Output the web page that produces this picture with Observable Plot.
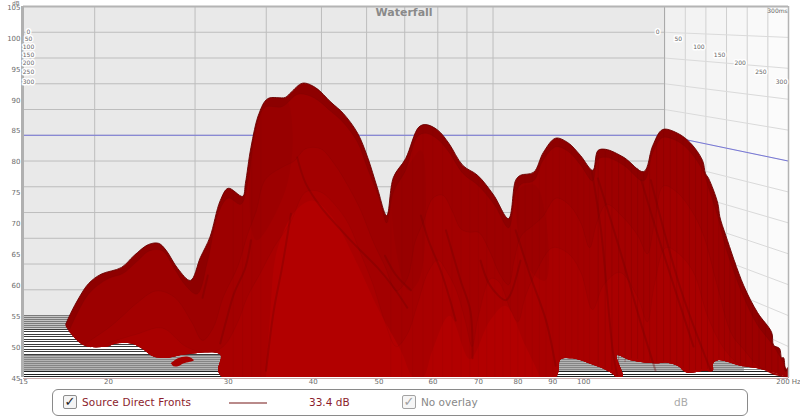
<!DOCTYPE html>
<html><head><meta charset="utf-8">
<script src="https://cdn.jsdelivr.net/npm/d3@7"></script>
<script src="https://cdn.jsdelivr.net/npm/@observablehq/plot@0.6"></script>
<style>
html,body{margin:0;padding:0;background:#fff;width:800px;height:418px;overflow:hidden;font-family:"DejaVu Sans",sans-serif}
svg{display:block}
#legend{position:relative;margin-left:52px;width:696px;height:27px;border:1px solid #8a8a8a;border-radius:6px;box-sizing:border-box}
#legend span,#legend i{position:absolute;white-space:nowrap;font-style:normal}
.lbl{top:6px;font-size:10.5px;line-height:13px}
.box{top:5px;width:14px;height:14px;border:1px solid #8d8d8d;border-radius:2px;box-sizing:border-box;background:#f4f4f4;font-size:13px;line-height:11px;text-align:center;font-weight:bold}
</style></head><body><div id="chart"></div>
<div id="legend">
<i class="box" style="left:10px;color:#222">✓</i><span class="lbl" style="left:29px;color:#8c1c2c;letter-spacing:.15px">Source Direct Fronts</span>
<i style="left:176px;top:12px;width:38px;height:2px;background:#b98a8a"></i>
<span class="lbl" style="left:256px;color:#8c1c2c">33.4 dB</span>
<i class="box" style="left:349px;color:#888;opacity:.8">✓</i><span class="lbl" style="left:368px;color:#888">No overlay</span>
<span class="lbl" style="left:621px;color:#aaa">dB</span>
</div>
<script>
// Axis ticks
const freqTicks=[15,20,30,40,50,60,70,80,90,100,200];
const gridFreqs=[20,30,40,50,60,70,80,90,100];
const dbTicks=[45,50,55,60,65,70,75,80,85,90,95,100,105];
const gridDbs=[50,55,60,65,70,75,80,85,90,95,100];
const timeTicks=[0,50,100,150,200,250,300];
const timeLabelDb=[100.8,99.7,98.4,97.1,95.8,94.4,92.7];
const sideShades=["#f1f1f1","#f3f3f3","#f5f5f5","#f7f7f7","#f9f9f9","#fbfbfb"];
const referenceDb=80;

// Waterfall outline: upper edge over all slices [Hz, dB]
const outlineTop=[[17.3,53.6],[17.6,55.4],[18.1,57.9],[18.7,60.2],[19.5,61.7],[20.9,62.8],[21.8,64.7],[22.9,66.5],[23.7,66.7],[24.3,65.6],[25.3,62.6],[26.4,60.7],[27.3,64.4],[28.2,67.7],[29.2,73.6],[30,75.6],[31.5,74.3],[31.8,76.4],[32.4,82.2],[33.3,87.7],[34.3,90.1],[36.4,90.3],[37.1,91.1],[38.6,92.6],[40.3,91.9],[42.5,89.5],[44.3,87.7],[46.5,84.5],[48.1,80.6],[49.7,75.7],[51.3,71.2],[52.5,77.4],[54.7,80.4],[57.2,85.5],[58.6,85.9],[61,85],[63.3,82.9],[66.4,79.3],[69.8,77.7],[73.7,74.5],[77.5,70.7],[79.4,76.9],[80.7,77.7],[84.4,78.2],[87.2,81.4],[90.9,83.7],[94.7,83],[98.9,80.9],[103.1,78.5],[104.9,81.7],[107.7,81.9],[114.5,80.6],[122.5,78.3],[126.3,82.5],[130.6,85.1],[137.4,84.5],[143.6,82.9],[149.5,80.1],[151,78],[152.6,77.2],[157.4,73.2],[158.5,71],[161.7,68],[171.8,59.9],[180.1,55.5],[188.9,52.3],[190.2,50.2],[194,49.7],[195.4,48.2],[196.7,48.2],[198,46],[199.5,46.6],[200,45.1]];
// Lower edge where the floor shows through, right to left
const outlineLow=[[200,45],[196.7,45.3],[180.1,46.5],[170,46.9],[157.5,47.8],[155,47.3],[154.7,46.1],[150,46.1],[141.7,45.8],[137.4,46.9],[132.6,47.4],[128.5,47.3],[117.3,47.8],[111.8,48.6],[114.1,45.2],[112.1,45],[109.5,45.8],[106,46.6],[101.3,47.4],[96.3,48.1],[92.4,47.9],[91.7,45.8],[90.9,45],[88,45],[60,45],[33,45],[29.5,45],[29,46.1],[29.2,48.7],[25.8,48.7],[24.5,48.2],[23.3,48.4],[22.4,49.7],[21.6,50.5],[20.5,50.5],[19.9,50],[18.6,50],[18.1,50.7],[17.6,52.1],[17.3,53.3]];
const islandPatch=[[24.7,47.3],[25.3,48.1],[26.1,48.4],[26.7,47.8],[25.8,47.3],[25.3,46.8],[24.9,46.8]];

// Slices, back to front
const sliceEarly=[[17.5,52.5],[18.7,58.5],[20,61],[21,61.8],[22,63.7],[23,65.5],[24,65.5],[25,62.6],[26,59.8],[27,58.5],[28,64],[29,71.5],[30,74],[31.3,73],[32,76],[33,85.5],[34,88.7],[36,88.8],[38,90.8],[40,90.3],[42.5,88],[44.3,86.2],[46.5,83],[48,79],[50,74],[51.3,70],[52.5,75],[54.7,78.5],[57,84],[58.6,84.5],[61,83.5],[63.3,81.5],[66.4,78],[70,76],[74,72.8],[77.5,69.2],[79.5,75],[81,76.3],[84.4,76.8],[87,80],[91,82.3],[95,81.5],[99,79.3],[103,76.8],[105,80.3],[108,80.6],[114.5,79.3],[122.5,76.8],[126.3,81.3],[130.6,83.8],[137.4,83.2],[143.6,81.4],[149.5,78.5],[152.6,75.6],[157.4,71],[161.7,66],[171.8,58],[180,53.5],[188,50.8],[194,48.5],[200,45.5]];
const sliceMiddle=[[18.5,50.5],[20,53],[21,55],[22,57],[23.5,59],[25,58],[26.5,54],[27.5,51],[28.5,53],[29.5,58],[31,63],[32,68],[33,72],[34,77],[36,79],[37.5,80],[39,82],[41,82],[43,79.5],[45,76],[47,72],[49,67],[51,63],[53,59],[55,61],[56.5,67],[58,70],[60,74],[62,74.5],[64,72],[66,69],[68,68.5],[70,68.5],[73,65],[75,62],[77.5,60],[79,64],[81,68],[84,69.5],[87,71],[91,74],[95,73],[99,70],[102,66],[104.5,70],[108,73],[114,71],[120,68],[124,65],[127,70],[131,76],[137,75],[144,72],[150,68],[157,60],[165,52],[172,49.5],[180,47],[190,45.5],[200,45]];
const sliceLate=[[20,50.6],[22,52],[24,53],[26,50],[28,49],[29.5,50],[31,54],[32,58],[33.5,62],[35,66],[37,70],[39,75],[41,75],[43,73],[45,70],[47,65],[49,60],[51,54],[53,50],[55,52],[57,57],[59,62],[61,64],[63,62],[65,59],[67,54],[68.5,50],[70,55],[73,61],[75,60.5],[78,56],[80,54],[82,58],[85,62],[90,66],[95,65],[99,62],[103,56],[107,60],[113,62],[120,58],[124,54],[127,60],[132,66],[138,65],[145,62],[152,55],[160,50],[170,47],[180,46.6],[200,45]];
const sliceFront=[[34.1,45],[34.6,55.8],[35.4,65.6],[37.7,72],[40,73.6],[42.5,71.2],[46.2,63.9],[50,55.8],[53.8,49.4],[56.2,45],[58,45],[59.9,49.4],[63.5,55],[68,48],[72.8,54.2],[76.7,56.6],[82,50.2],[86.4,45]];
// Darker shaded faces on the left flanks of the modes
const shadeMain=[[33.1,86.6],[34.4,89.8],[36.4,90.1],[37.3,85],[36.4,75.3],[33,67.2],[32.2,76.9]];
const shadeSecond=[[52.5,75.3],[54.7,78.5],[57.6,81.7],[58.6,73.6],[57.2,60.7],[55.2,59.1],[52.7,67.2]];
const shadeThird=[[80,75.3],[84.8,76.1],[87.8,71.2],[87.8,60.7],[83.4,62.3],[80,68.8]];

// Dark creases on the surface
const creases=[
 [[37.9,80.6],[39,76.4],[41.1,72.5],[44,68.8],[46.5,66],[49.7,62.8],[52.5,59.6],[55,56.3]],
 [[32.4,67.2],[31.8,62.8],[30.6,58.6],[29.8,54.2],[29.2,50.5]],
 [[37.1,71.5],[36,62.8],[35,55.8],[34.1,46.1]],
 [[51,64.7],[53,61.5],[55.7,59.1]],
 [[57.6,71.2],[59.1,67.2],[61.6,62.3],[63.6,57.5],[64.8,54.2]],
 [[62.7,68.8],[65.9,60.7],[68.1,55.8],[68.6,48.1]],
 [[70.5,63.9],[72.8,59.9],[76.7,57.5],[77.9,58.3],[80.7,63.9]],
 [[79.4,68.8],[83.4,61.5],[88,54.2],[90.9,46.9]],
 [[104.9,77.2],[113,65.6],[121,54.2],[127.5,46.1]],
 [[125.5,76.9],[139,59.1],[153.7,46.1]],
 [[102.7,78.5],[106,68.8],[110.3,49.4],[112,45.3]],
 [[121.5,76.9],[130.5,65.6],[145,50]],
 [[27.5,57.9],[28,61.5]]
];
// Near-vertical slice edges
const edgeFreqsRight=[105,107.5,110,112.5,115,117.5,120,122.5,125,128,131,134,137,140,143,146,149,152,155,158,161,164,167,170,173,177,181,185,189,193];
const edgeFreqsMid=[30.5,31.5,32.5,33.5,52,54,56,58,60,62,64,66,68,70,72,74,76,78,80,82,84,86,88,90,92,94,96,98,100,102];

const LOG15=Math.log(15);
const projF=(f,t)=>Math.exp(LOG15+(Math.log(f)-LOG15)*(0.838+0.162*t/300));
const projDb=(db,t)=>105-(105-db)*(0.833+0.167*t/300);
const pts=a=>a.map(([f,db])=>({f,db}));
const lookup=(arr,f)=>{const s=[...arr].sort((a,b)=>a[0]-b[0]);const i=d3.bisector(d=>d[0]).right(s,f);
  if(i<=0)return s[0][1]; if(i>=s.length)return s[s.length-1][1];
  const [a,b]=[s[i-1],s[i]];return a[1]+(b[1]-a[1])*(f-a[0])/(b[0]-a[0]);};
const lowMono=outlineLow.filter(p=>![111.8,114.1,112.1].includes(p[0])&&p[0]>=90);
const edge=f=>({f,top:lookup(outlineTop,f)-0.2,low:f>=92?lookup(lowMono,f)+0.2:45});

const tOfDb=db=>Math.max(0,Math.min(300,(55-db)/10*300));
const pxDb=1/6.18;
const floorRows=[
 ...d3.range(55,52.8,-2*pxDb).map(db=>({db,stroke:"#7b7b7b"})),
 ...d3.range(52.8,48.56,-2.5*pxDb).map(db=>({db,stroke:"#3c3c3c"})),
 ...d3.range(48.56,45.97,-2*pxDb).map(db=>({db,stroke:"#858585"})),
 ...d3.range(45.97,45.05,-2.5*pxDb).map(db=>({db,stroke:"#222"}))
].map(r=>({...r,x2:projF(200,tOfDb(r.db))}));

const backF=projF(200,0), backFloor=projDb(45,0);
const floorGrey=[{y1:52.8,y2:55,x2:backF,fill:"#c4c4c4"},{y1:45.97,y2:48.56,x2:projF(200,tOfDb(48.56)),fill:"#b4b4b4"}];
const floorShape=[{f:15,db:55},{f:backF,db:55},{f:200,db:45},{f:15,db:45}];
const sideCols=timeTicks.slice(0,-1).map((t,i)=>({x1:projF(200,t),x2:projF(200,timeTicks[i+1]),fill:sideShades[i]}));
const closed=slice=>pts([...slice,...outlineLow.filter(p=>p[0]<=slice[slice.length-1][0]&&p[0]>=slice[0][0])]);
const poly=(data,fill)=>Plot.line(data,{x:"f",y:"db",fill,stroke:"none",curve:"catmull-rom",clip:true});
const contour=(slice,op)=>Plot.line(pts(slice),{x:"f",y:"db",stroke:"#6e0000",strokeWidth:0.7,strokeOpacity:op,curve:"catmull-rom"});
const shade=slice=>Plot.line(pts(slice),{x:"f",y:"db",fill:"#880000",fillOpacity:.22,stroke:"none",curve:"catmull-rom-closed"});
const sideLines=gridDbs.flatMap(db=>[{f:backF,db:projDb(db,0),k:db},{f:200,db:db,k:db}]);

const tickStyle={fontSize:"7px",fontFamily:"DejaVu Sans",fill:"#6b6b6b"};
const plot=Plot.plot({
  width:800,height:389,marginLeft:23,marginRight:12,marginTop:6,marginBottom:12,
  style:{background:"#fff",fontFamily:"DejaVu Sans"},
  x:{type:"log",domain:[15,200],axis:null},
  y:{domain:[45,105],axis:null},
  marks:[
    // walls
    Plot.rect([{x1:15,x2:backF,y1:backFloor,y2:105}],{x1:"x1",x2:"x2",y1:"y1",y2:"y2",fill:"#e9e9e9"}),
    Plot.rect(sideCols,{x1:"x1",x2:"x2",y1:45,y2:105,fill:"fill"}),
    Plot.ruleY(gridDbs,{y:d=>projDb(d,0),x1:15,x2:backF,stroke:"#bdbdbd",strokeWidth:1}),
    Plot.ruleX(gridFreqs,{x:d=>projF(d,0),y1:backFloor,y2:105,stroke:"#bdbdbd",strokeWidth:1}),
    Plot.ruleX(timeTicks,{x:t=>projF(200,t),y1:45,y2:105,stroke:"#cfcfcf",strokeWidth:1}),
    Plot.line(sideLines,{x:"f",y:"db",z:"k",stroke:"#dadada",strokeWidth:1}),
    Plot.ruleX([0],{x:backF,y1:backFloor,y2:105,stroke:"#a8a8a8",strokeWidth:1}),
    // reference level
    Plot.ruleY([referenceDb],{y:d=>projDb(d,0),x1:15,x2:backF,stroke:"#7777d8",strokeWidth:1}),
    Plot.line([{f:backF,db:projDb(referenceDb,0)},{f:200,db:referenceDb}],{x:"f",y:"db",stroke:"#7777d8",strokeWidth:1}),
    // floor
    Plot.line(floorShape,{x:"f",y:"db",fill:"#fff",stroke:"none"}),
    Plot.rect(floorGrey,{x1:15,x2:"x2",y1:"y1",y2:"y2",fill:"fill"}),
    Plot.ruleY(floorRows,{y:"db",x1:15,x2:"x2",stroke:"stroke",strokeWidth:1,shapeRendering:"crispEdges"}),
    // waterfall
    poly(closed(outlineTop),"#8e0000"),
    poly(closed(sliceEarly),"#9d0000"),
    poly(closed(sliceMiddle),"#a30000"),
    poly(closed(sliceLate),"#a90000"),
    poly(pts(sliceFront),"#b20000"),
    poly(pts(islandPatch),"#a80000"),
    shade(shadeMain),shade(shadeSecond),shade(shadeThird),
    contour(sliceEarly,.25),contour(sliceMiddle,.22),contour(sliceLate,.18),
    Plot.ruleX(edgeFreqsRight.map(edge),{x:"f",y1:"low",y2:"top",stroke:"#7a0000",strokeOpacity:.3,strokeWidth:1}),
    Plot.ruleX(edgeFreqsMid.map(edge),{x:"f",y1:"low",y2:"top",stroke:"#7a0000",strokeOpacity:.1,strokeWidth:1}),
    Plot.line(creases.flatMap((c,i)=>c.map(([f,db])=>({f,db,i}))),{x:"f",y:"db",z:"i",stroke:"#720000",strokeWidth:2,strokeOpacity:.35,curve:"catmull-rom"}),
    Plot.line(pts(outlineTop),{x:"f",y:"db",stroke:"#6a0000",strokeWidth:0.9,curve:"catmull-rom"}),
    // frame
    Plot.ruleY([105],{stroke:"#b4b4b4",strokeWidth:2}),
    Plot.ruleX([200],{stroke:"#b4b4b4",strokeWidth:1.5}),
    Plot.ruleX([15],{stroke:"#b0b0b0",strokeWidth:3,dx:-1}),
    Plot.ruleY([45],{stroke:"#c9a9a9",strokeWidth:1,dy:1}),
    // time labels
    Plot.text(timeTicks,{x:15,y:(t,i)=>timeLabelDb[i],text:String,dx:5,fontSize:6,fill:"#666",stroke:"#fff",strokeWidth:3,paintOrder:"stroke"}),
    Plot.text(timeTicks,{x:t=>projF(200,t),y:(t,i)=>timeLabelDb[i],text:String,dx:-7,fontSize:6,fill:"#666",stroke:"#fff",strokeWidth:3,paintOrder:"stroke"}),
    Plot.text(["300ms"],{x:200,y:105,text:d=>d,dx:-11,dy:5,fontSize:6,fill:"#666"}),
    // title
    Plot.text(["Waterfall"],{x:50,y:105,text:d=>d,dx:25,dy:6,fontSize:11,fontWeight:"bold",fill:"#8a8a8a"}),
    // axes
    Plot.axisX(freqTicks,{anchor:"bottom",tickSize:0,tickPadding:2,tickFormat:d=>d===200?"200 Hz":String(d),...tickStyle}),
    Plot.axisY(dbTicks,{anchor:"left",tickSize:0,tickPadding:3,dy:1,tickFormat:String,...tickStyle}),
    Plot.text(["dB"],{x:15,y:105,text:d=>d,dx:-4,dy:-3,textAnchor:"end",fontSize:5.5,fill:"#6b6b6b"})
  ]
});
document.getElementById("chart").appendChild(plot);
</script></body></html>
